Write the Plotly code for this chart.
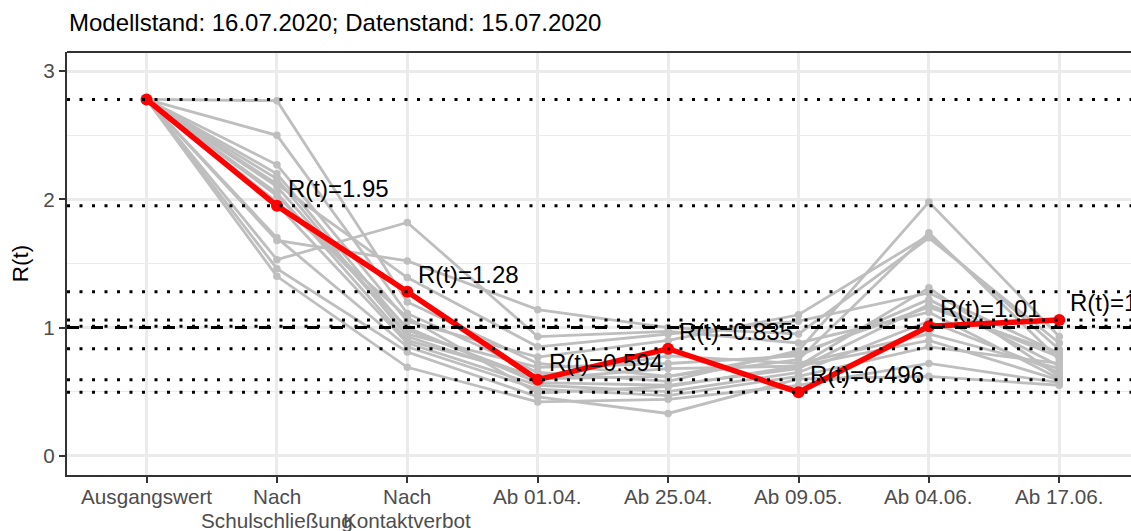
import plotly.graph_objects as go

# Zeitraeume (x-Achse)
categories = [
    "Ausgangswert",
    "Nach<br>Schulschließung",
    "Nach<br>Kontaktverbot",
    "Ab 01.04.",
    "Ab 25.04.",
    "Ab 09.05.",
    "Ab 04.06.",
    "Ab 17.06.",
]

# Reproduktionszahl Deutschland gesamt
r_germany = [2.78, 1.95, 1.28, 0.594, 0.835, 0.496, 1.01, 1.06]

# Reproduktionszahlen der Bundeslaender
r_baden_wuerttemberg = [2.78, 2.77, 1.20, 0.72, 0.62, 0.75, 1.74, 0.75]
r_bayern = [2.78, 2.50, 1.11, 0.65, 0.58, 0.82, 1.98, 0.93]
r_berlin = [2.78, 2.27, 1.05, 0.77, 0.90, 1.10, 1.72, 0.83]
r_brandenburg = [2.78, 2.16, 0.93, 0.60, 0.68, 0.70, 1.31, 0.62]
r_bremen = [2.78, 2.10, 0.95, 0.69, 0.72, 0.78, 1.22, 0.70]
r_hamburg = [2.78, 2.03, 1.00, 0.57, 0.55, 0.68, 1.18, 0.77]
r_hessen = [2.78, 1.96, 0.88, 0.55, 0.50, 0.65, 1.05, 0.65]
r_mecklenburg_vorpommern = [2.78, 2.12, 1.39, 0.85, 0.95, 1.05, 1.27, 0.80]
r_niedersachsen = [2.78, 1.68, 1.52, 1.14, 1.00, 0.95, 1.70, 0.88]
r_nordrhein_westfalen = [2.78, 1.53, 1.82, 0.93, 0.97, 0.88, 1.12, 0.60]
r_rheinland_pfalz = [2.78, 1.46, 0.81, 0.46, 0.33, 0.60, 0.62, 0.55]
r_saarland = [2.78, 1.40, 0.69, 0.42, 0.44, 0.55, 0.72, 0.57]
r_sachsen = [2.78, 2.05, 0.90, 0.62, 0.78, 0.72, 0.95, 0.68]
r_sachsen_anhalt = [2.78, 1.70, 0.85, 0.52, 0.47, 0.62, 0.85, 0.72]
r_schleswig_holstein = [2.78, 1.98, 1.08, 0.49, 0.54, 0.70, 0.90, 0.59]
r_thueringen = [2.78, 2.20, 0.98, 0.60, 0.62, 0.80, 1.16, 0.80]

states = {
    "Baden-Württemberg": r_baden_wuerttemberg,
    "Bayern": r_bayern,
    "Berlin": r_berlin,
    "Brandenburg": r_brandenburg,
    "Bremen": r_bremen,
    "Hamburg": r_hamburg,
    "Hessen": r_hessen,
    "Mecklenburg-Vorpommern": r_mecklenburg_vorpommern,
    "Niedersachsen": r_niedersachsen,
    "Nordrhein-Westfalen": r_nordrhein_westfalen,
    "Rheinland-Pfalz": r_rheinland_pfalz,
    "Saarland": r_saarland,
    "Sachsen": r_sachsen,
    "Sachsen-Anhalt": r_sachsen_anhalt,
    "Schleswig-Holstein": r_schleswig_holstein,
    "Thüringen": r_thueringen,
}

y_ticks = [0, 1, 2, 3]
threshold = 1.0

title_text = "Modellstand: 16.07.2020; Datenstand: 15.07.2020"

FONT = "Liberation Sans, Arial, sans-serif"
GREY = "#BEBEBE"
RED = "#FF0000"
TICK_GREY = "#4D4D4D"

fig = go.Figure()

for name, values in states.items():
    fig.add_trace(go.Scatter(
        x=categories, y=values, name=name, mode="lines+markers",
        line=dict(color=GREY, width=2.8),
        marker=dict(color=GREY, size=7.5),
        showlegend=False, hoverinfo="skip",
    ))

fig.add_trace(go.Scatter(
    x=categories, y=r_germany, name="Deutschland", mode="lines+markers",
    line=dict(color=RED, width=5.5),
    marker=dict(color=RED, size=12),
    showlegend=False,
))

# Horizontale Hilfslinien bei den Werten fuer Deutschland und bei R=1
for v in r_germany:
    fig.add_shape(type="line", xref="x domain", x0=0, x1=1, yref="y", y0=v, y1=v,
                  line=dict(color="black", width=3, dash="3px,9.5px"), layer="above")
fig.add_shape(type="line", xref="x domain", x0=0, x1=1, yref="y", y0=threshold, y1=threshold,
              line=dict(color="black", width=3, dash="12px,12px"), layer="above")

# Beschriftung der Werte (ohne Ausgangswert)
for cat, v in zip(categories[1:], r_germany[1:]):
    fig.add_annotation(
        x=cat, y=v, text=f"R(t)={v:.3g}", showarrow=False,
        xanchor="left", yanchor="bottom", xshift=9, yshift=2,
        font=dict(family=FONT, size=24, color="black"),
    )

# Kategorienbeschriftung unter der x-Achse (zeilenweise, enger Zeilenabstand)
for cat in categories:
    for i, line in enumerate(cat.split("<br>")):
        fig.add_annotation(
            x=cat, xref="x", y=0, yref="paper", text=line, showarrow=False,
            xanchor="center", yanchor="middle", yshift=-21 - 24 * i,
            font=dict(family=FONT, size=20.7, color=TICK_GREY),
        )

fig.add_annotation(
    xref="paper", yref="paper", x=0, y=1, text=title_text, showarrow=False,
    xanchor="left", yanchor="bottom", yshift=14,
    font=dict(family=FONT, size=24, color="black"),
)

fig.update_layout(
    width=1131, height=531,
    margin=dict(l=67, r=0, t=52, b=56, autoexpand=False),
    paper_bgcolor="white", plot_bgcolor="white",
    font=dict(family=FONT),
    showlegend=False,
)

fig.update_xaxes(
    type="category", range=[-0.61, 7.55],
    showticklabels=False, automargin=False,
    showgrid=True, gridcolor="#EBEBEB", gridwidth=2.5,
    showline=True, linecolor="#333333", linewidth=2, mirror=False,
    ticks="outside", ticklen=6, tickwidth=2, tickcolor="#333333",
    zeroline=False,
)

fig.update_yaxes(
    range=[-0.15, 3.15], tickvals=y_ticks, automargin=False,
    showgrid=True, gridcolor="#EBEBEB", gridwidth=2.5,
    minor=dict(dtick=0.5, showgrid=True, gridcolor="#EBEBEB", gridwidth=1.3, ticklen=0),
    showline=True, linecolor="#333333", linewidth=2,
    ticks="outside", ticklen=6, tickwidth=2, tickcolor="#333333",
    tickfont=dict(family=FONT, size=20.7, color=TICK_GREY),
    title=dict(text="R(t)", font=dict(family=FONT, size=22.5, color="black"), standoff=8),
    zeroline=False,
)

# Obere Begrenzung des Zeichenbereichs
fig.add_shape(type="line", xref="paper", x0=0, x1=1, yref="paper", y0=1, y1=1,
              line=dict(color="#333333", width=2), layer="above")

fig.write_html("out.html")
